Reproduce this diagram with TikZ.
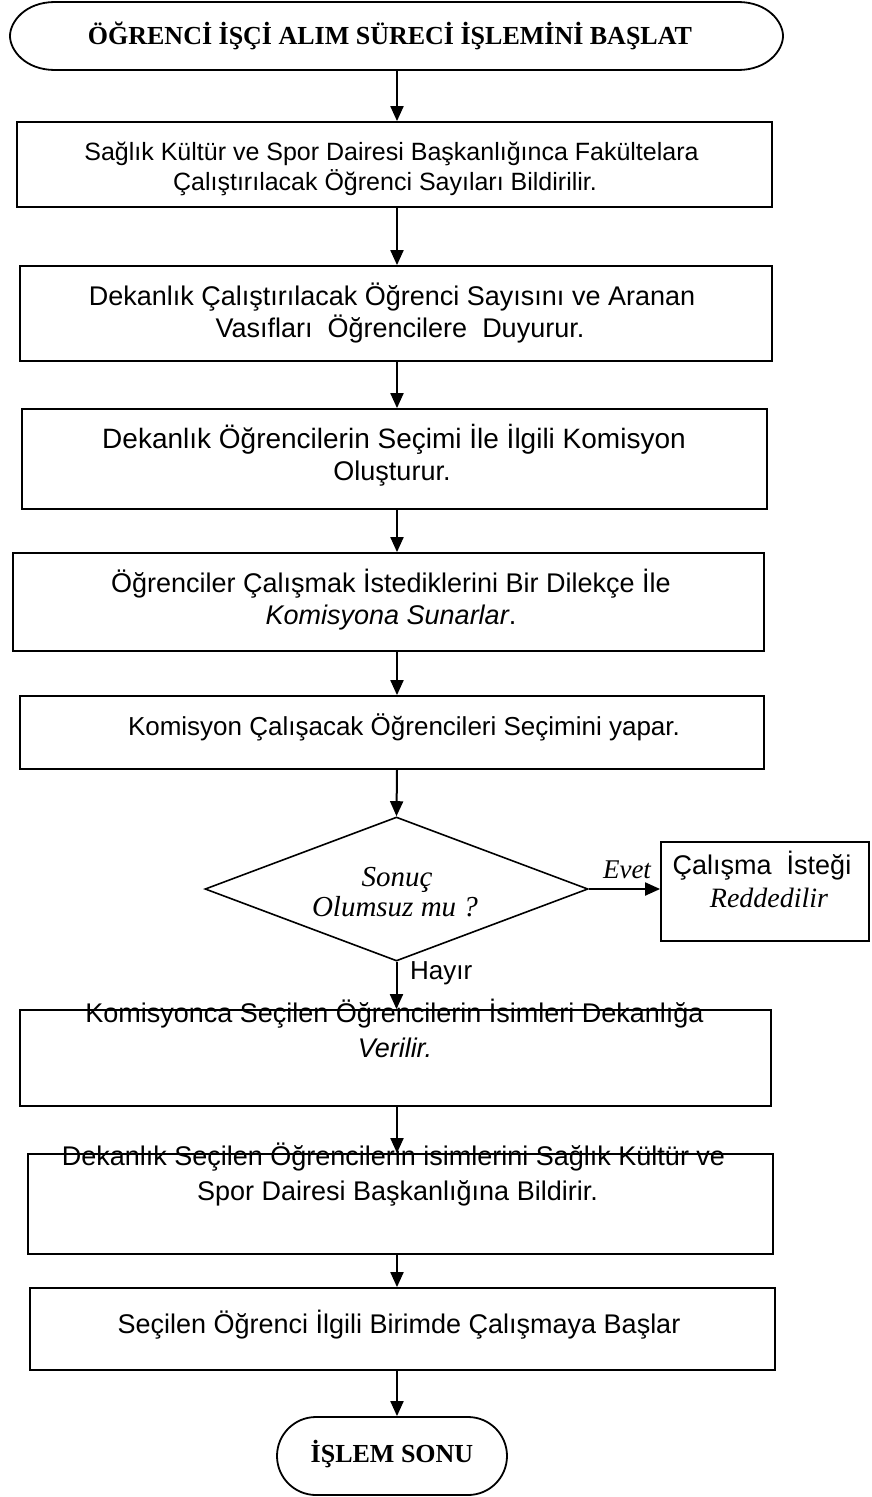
\documentclass[tikz,border=0pt]{standalone}
\usepackage{fontspec}
\setmainfont{Liberation Serif}
\newfontfamily\arialfont{Liberation Sans}
\usetikzlibrary{arrows.meta,shapes.geometric,shapes.misc}

\begin{document}
\begin{tikzpicture}[x=1pt,y=-1pt,
  box/.style={draw, line width=1.8pt, inner sep=0pt},
  sans/.style={font=\arialfont\fontsize{27}{33}\selectfont, inner sep=0pt, anchor=base},
  sanssize/.style={font=\arialfont\fontsize{#1}{33}\selectfont},
  serifit/.style={font=\itshape\fontsize{27}{33}\selectfont, inner sep=0pt, anchor=base},
  serifsize/.style={font=\itshape\fontsize{#1}{33}\selectfont},
  titletext/.style={font=\bfseries\fontsize{26}{32}\selectfont, inner sep=0pt, anchor=base},
  arr/.style={line width=2pt, -{Triangle[length=15pt,width=13pt]}}
]
\useasboundingbox (0,0) rectangle (872,1497);

% arrow axis
\coordinate (axis) at (397,0);

% start terminal
\draw[line width=1.8pt] (55,2) -- (738,2)
  .. controls (768,2) and (783,22) .. (783,36)
  .. controls (783,50) and (768,70) .. (738,70)
  -- (55,70)
  .. controls (25,70) and (10,50) .. (10,36)
  .. controls (10,22) and (25,2) .. (55,2);
\node[titletext] (start) at (390,44) {ÖĞRENCİ İŞÇİ ALIM SÜRECİ İŞLEMİNİ BAŞLAT};
\coordinate (startbot) at (397,70);

% process boxes
\node[box, minimum width=755pt, minimum height=85pt]  (b1) at (394.5,164.5) {};
\node[box, minimum width=752pt, minimum height=95pt]  (b2) at (396,313.5) {};
\node[box, minimum width=745pt, minimum height=100pt] (b3) at (394.5,459) {};
\node[box, minimum width=751pt, minimum height=98pt]  (b4) at (388.5,602) {};
\node[box, minimum width=744pt, minimum height=73pt]  (b5) at (392,732.5) {};
\node[box, minimum width=751pt, minimum height=96pt]  (b6) at (395.5,1058) {};
\node[box, minimum width=745pt, minimum height=100pt] (b7) at (400.5,1204) {};
\node[box, minimum width=745pt, minimum height=82pt]  (b8) at (402.5,1329) {};

% decision and rejection
\node[diamond, draw, line width=1.6pt, minimum width=383pt, minimum height=144pt,
      inner sep=0pt, aspect=2.66] (dec) at (396.5,889) {};
\node[box, minimum width=208pt, minimum height=99pt] (rej) at (765,891.5) {};

% end terminal
\node[rounded rectangle, draw, line width=1.8pt, minimum width=230pt,
      minimum height=78pt, inner sep=0pt] (end) at (392,1456) {};
\node[titletext] (endtext) at (392,1462) {İŞLEM SONU};

% box texts
\node[sans, sanssize=25] (t1a) at (391.5,160) {Sağlık Kültür ve Spor Dairesi Başkanlığınca Fakültelara};
\node[sans, sanssize=25] (t1b) at (385,190) {Çalıştırılacak Öğrenci Sayıları Bildirilir.};
\node[sans] (t2a) at (392,305) {Dekanlık Çalıştırılacak Öğrenci Sayısını ve Aranan};
\node[sans] (t2b) at (400,337) {Vasıfları\ \ Öğrencilere\ \ Duyurur.};
\node[sans, sanssize=28] (t3a) at (394,448) {Dekanlık Öğrencilerin Seçimi İle İlgili Komisyon};
\node[sans] (t3b) at (392,480) {Oluşturur.};
\node[sans] (t4a) at (391,592) {Öğrenciler Çalışmak İstediklerini Bir Dilekçe İle};
\node[sans] (t4b) at (391,624) {\itshape Komisyona Sunarlar\upshape.};
\node[sans, sanssize=26] (t5) at (404,735) {Komisyon Çalışacak Öğrencileri Seçimini yapar.};
\node[sans] (t6a) at (394.5,1022) {Komisyonca Seçilen Öğrencilerin İsimleri Dekanlığa};
\node[sans] (t6b) at (395,1057) {\itshape Verilir.};
\node[sans] (t7a) at (393.5,1165) {Dekanlık Seçilen Öğrencilerin isimlerini Sağlık Kültür ve};
\node[sans] (t7b) at (397.5,1200) {Spor Dairesi Başkanlığına Bildirir.};
\node[sans] (t8) at (399,1333) {Seçilen Öğrenci İlgili Birimde Çalışmaya Başlar};

% decision texts
\node[serifit, serifsize=29] (q1) at (397,886) {Sonuç};
\node[serifit, serifsize=29] (q2) at (395,916) {Olumsuz mu ?};
\node[sans] (r1) at (762,874) {Çalışma\ \ İsteği};
\node[serifit, serifsize=28] (r2) at (769,907) {Reddedilir};
\node[serifit] (yes) at (627,878) {Evet};
\node[sans, anchor=base west, sanssize=26] (no) at (410,979) {Hayır};

% connectors
\draw[arr] (startbot) -- (b1.north -| axis);
\draw[arr] (b1.south -| axis) -- (b2.north -| axis);
\draw[arr] (b2.south -| axis) -- (b3.north -| axis);
\draw[arr] (b3.south -| axis) -- (b4.north -| axis);
\draw[arr] (b4.south -| axis) -- (b5.north -| axis);
\draw[arr] (b5.south -| axis) -- (dec.north);
\draw[arr] (dec.east) -- (dec.east -| rej.west);
\draw[arr] (dec.south) -- (b6.north -| dec.south);
\draw[arr] (b6.south -| axis) -- (b7.north -| axis);
\draw[arr] (b7.south -| axis) -- (b8.north -| axis);
\draw[arr] (b8.south -| axis) -- (end.north -| axis);
\end{tikzpicture}
\end{document}
